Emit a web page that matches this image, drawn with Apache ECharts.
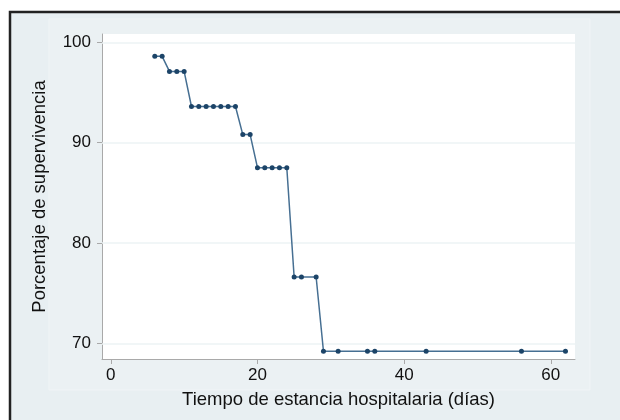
<!DOCTYPE html>
<html>
<head>
<meta charset="utf-8">
<script src="https://cdn.jsdelivr.net/npm/echarts@6/dist/echarts.min.js"></script>
<style>
html,body{margin:0;padding:0;background:#fff}
#main{width:620px;height:420px}
</style>
</head>
<body>
<div id="main"></div>
<script>
// dias de estancia y porcentaje de supervivencia
var dias = [6,7,8,9,10,11,12,13,14,15,16,17,18,19,20,21,22,23,24,25,26,28,29,31,35,36,43,56,62]
var superv = [98.6,98.6,97.1,97.1,97.1,93.6,93.6,93.6,93.6,93.6,93.6,93.6,90.8,90.8,87.5,87.5,87.5,87.5,87.5,76.6,76.6,76.6,69.2,69.2,69.2,69.2,69.2,69.2,69.2]
var xTicks = [0,20,40,60]
var yTicks = [70,80,90,100]

var puntos = []
for(var i=0;i<dias.length;i++){
    puntos.push([dias[i],superv[i]])
}
var lineas = []
for(var j=0;j<yTicks.length;j++){
    lineas.push({yAxis:yTicks[j]})
}

var fuente = '"Liberation Sans", Arial, Helvetica, sans-serif'
var myChart = echarts.init(document.getElementById('main'))
var option = {
    animation:false,
    backgroundColor:'#fff',
    textStyle:{fontFamily:fuente},
    graphic:[
        {type:'rect',z:-10,shape:{x:10,y:12,width:650,height:450},
         style:{fill:'#e8eff2',stroke:'#222',lineWidth:2.5}},
        {type:'rect',z:-9,shape:{x:49,y:19,width:541,height:371},
         style:{fill:'#ebf1f3',stroke:'#f0f4f6',lineWidth:1}}
    ],
    grid:{
        left:102,top:34,right:45,bottom:61,
        show:true,backgroundColor:'#fff',borderWidth:0
    },
    xAxis:{
        type:'value',min:-1.2,max:63.3,
        name:'Tiempo de estancia hospitalaria (días)',
        nameLocation:'middle',nameGap:31,
        nameTextStyle:{fontSize:18.5,color:'#111',fontFamily:fuente},
        axisLine:{show:true,onZero:false,lineStyle:{color:'#a9a9a9',width:1}},
        axisTick:{show:true,length:5,customValues:xTicks,lineStyle:{color:'#a9a9a9'}},
        axisLabel:{customValues:xTicks,fontSize:17,color:'#111',margin:8,fontFamily:fuente},
        splitLine:{show:false}
    },
    yAxis:{
        type:'value',min:68.43,max:100.83,
        name:'Porcentaje de supervivencia',
        nameLocation:'middle',nameGap:53,nameRotate:90,
        nameTextStyle:{fontSize:18.5,color:'#111',fontFamily:fuente},
        axisLine:{show:true,onZero:false,lineStyle:{color:'#a9a9a9',width:1}},
        axisTick:{show:true,length:5,customValues:yTicks,lineStyle:{color:'#a9a9a9'}},
        axisLabel:{customValues:yTicks,fontSize:17,color:'#111',margin:11,fontFamily:fuente},
        splitLine:{show:false}
    },
    series:[{
        type:'line',
        data:puntos,
        symbol:'circle',
        symbolSize:5,
        showAllSymbol:true,
        lineStyle:{color:'#466f92',width:1.5},
        itemStyle:{color:'#1c4468'},
        markLine:{
            silent:true,symbol:['none','none'],label:{show:false},
            lineStyle:{color:'#edf3f5',type:'solid',width:1.5},
            z:1,
            data:lineas
        },
        z:3
    }]
}
myChart.setOption(option)
</script>
</body>
</html>
